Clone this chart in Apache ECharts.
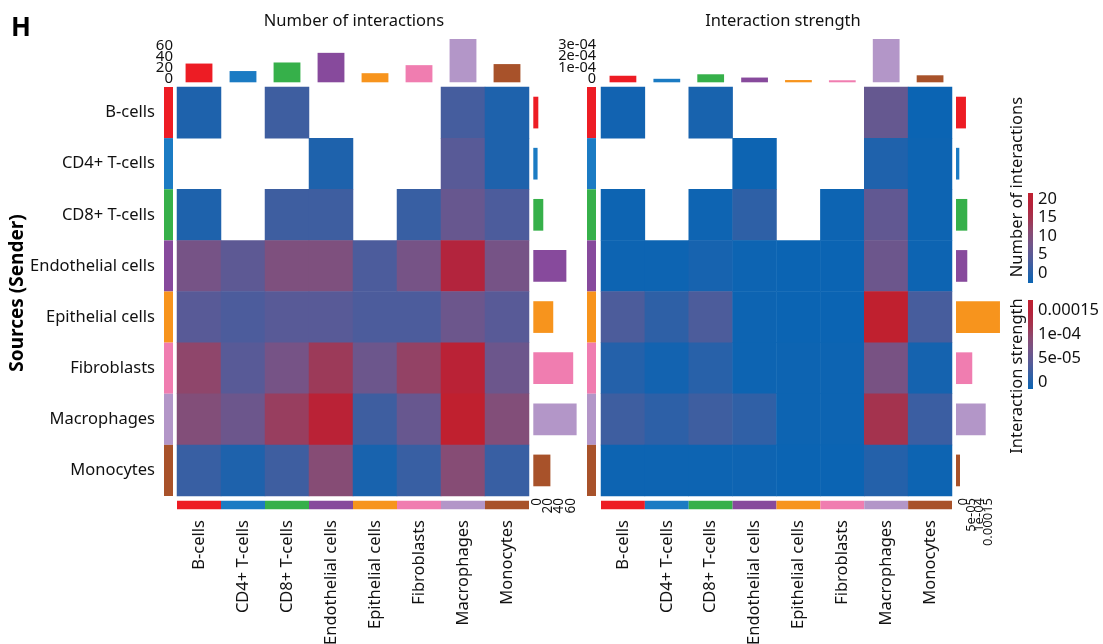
<!DOCTYPE html>
<html><head><meta charset="utf-8">
<script src="https://cdn.jsdelivr.net/npm/echarts@6/dist/echarts.min.js"></script>
<style>html,body{margin:0;padding:0;background:#fff}#c{width:1103px;height:644px}</style>
</head><body><div id="c"></div>
<script>
const cellTypes = ['B-cells','CD4+ T-cells','CD8+ T-cells','Endothelial cells','Epithelial cells','Fibroblasts','Macrophages','Monocytes'];
const cellColors = ['#ED1C24','#1B7BC3','#36B04A','#874A9C','#F7941D','#F07DB0','#B396C8','#A8522A'];
// rows = sources (sender), columns = targets (receiver); null = no interaction
const countMatrix = [
  [1.5, null, 4, null, null, null, 4.5, 1.5],
  [null, null, null, 1.5, null, null, 6, 1.5],
  [1.5, null, 4, 4, null, 3.5, 7.5, 5],
  [9, 6.5, 10, 10, 5, 9, 17, 9],
  [6, 5, 6, 6, 5, 5, 8, 6],
  [12, 6, 9, 13.5, 8, 12.5, 18.5, 8],
  [10.5, 8, 13, 18.5, 4, 7.5, 20, 10.5],
  [3.5, 1.5, 4, 11, 1, 3.5, 11, 3.5]
];
const strengthMatrix = [
  [4e-6, null, 8e-6, null, null, null, 5.5e-5, 0],
  [null, null, null, 1e-6, null, null, 1.2e-5, 1e-6],
  [1e-6, null, 2e-6, 2.1e-5, null, 1e-6, 5.2e-5, 1e-6],
  [1e-6, 1e-6, 7e-6, 1e-6, 0, 0, 6e-5, 1e-6],
  [3.8e-5, 2.1e-5, 3.8e-5, 1e-6, 0, 0, 1.5e-4, 3.5e-5],
  [1.5e-5, 5e-6, 1.7e-5, 1e-6, 1e-6, 1e-6, 7e-5, 6e-6],
  [3e-5, 2e-5, 3e-5, 2.2e-5, 1e-6, 1e-6, 1.08e-4, 2.8e-5],
  [1e-6, 1e-6, 1e-6, 2e-6, 0, 0, 1.5e-5, 1e-6]
];
const countColSums = [35, 21, 37, 55, 17, 32, 81, 34];
const countRowSums = [8.8, 7.5, 17.5, 58, 35, 70, 76, 30];
const strengthColSums = [5.8e-5, 3.1e-5, 7.1e-5, 4.2e-5, 2.0e-5, 1.8e-5, 3.83e-4, 6.2e-5];
const strengthRowSums = [6.0e-5, 2.0e-5, 6.8e-5, 6.8e-5, 2.65e-4, 9.8e-5, 1.79e-4, 2.4e-5];
const countTickValues = [0, 20, 40, 60];
const countTickLabels = ['0', '20', '40', '60'];
const strengthTopValues = [0, 1e-4, 2e-4, 3e-4];
const strengthTopLabels = ['0', '1e-04', '2e-04', '3e-04'];
const strengthSideValues = [0, 5e-5, 1e-4, 1.5e-4];
const strengthSideLabels = ['0', '5e-05', '1e-04', '0.00015'];
const countLegendTicks = ['20', '15', '10', '5', '0'];
const strengthLegendTicks = ['0.00015', '1e-04', '5e-05', '0'];
const countMax = 20, strengthMax = 1.5e-4;

const FONT = 'Noto Sans';
const TXT = '#111';
const ramp = ['#0b64b3','#2f60a6','#555b98','#725589','#8a4a72','#a3344f','#b4233c','#c0202f'];

function toCells(m) {
  const out = [];
  m.forEach((row, i) => row.forEach((v, j) => { if (v !== null) out.push([j, i, v]); }));
  return out;
}
function colored(arr) { return arr.map((v, i) => ({ value: v, itemStyle: { color: cellColors[i] } })); }

const hidden = { show: false };
const G = [
  { left: 177, top: 87, width: 352, height: 409 },      // 0 left heatmap
  { left: 601, top: 87, width: 351, height: 409 },      // 1 right heatmap
  { left: 177, top: 37.3, width: 352, height: 45 },     // 2 left top bars
  { left: 601, top: 37.1, width: 351, height: 45.2 },   // 3 right top bars
  { left: 533.3, top: 87, width: 45.6, height: 409 },   // 4 left side bars
  { left: 956, top: 87, width: 44.8, height: 409 },     // 5 right side bars
  { left: 164, top: 87, width: 9, height: 409 },        // 6 left row strip
  { left: 587, top: 87, width: 9, height: 409 },        // 7 right row strip
  { left: 177, top: 500.7, width: 352, height: 8.6 },   // 8 left column strip
  { left: 601, top: 500.7, width: 351, height: 8.6 }    // 9 right column strip
].map(g => Object.assign({ outerBoundsMode: 'none', containLabel: false }, g));

const catX = (gi, showLabels) => ({
  type: 'category', gridIndex: gi, data: cellTypes,
  axisLine: hidden, axisTick: hidden, splitLine: hidden,
  axisLabel: showLabels ? { rotate: 90, margin: 24, fontSize: 16.5, fontFamily: FONT, color: TXT, interval: 0 } : hidden
});
const catY = (gi, showLabels) => ({
  type: 'category', gridIndex: gi, data: cellTypes, inverse: true,
  axisLine: hidden, axisTick: hidden, splitLine: hidden,
  axisLabel: showLabels ? { margin: 22, fontSize: 16.5, fontFamily: FONT, color: TXT, interval: 0 } : hidden
});
const unitAxis = (type, gi) => ({ type: type, gridIndex: gi, min: 0, max: 1, show: false });
const valAxis = (gi, max, pos) => ({ type: 'value', gridIndex: gi, min: 0, max: max, position: pos,
  axisLine: hidden, axisTick: hidden, splitLine: hidden, axisLabel: hidden });

const xAxis = [
  catX(0, true),
  catX(1, true),
  { type: 'category', gridIndex: 2, data: cellTypes, show: false },
  { type: 'category', gridIndex: 3, data: cellTypes, show: false },
  valAxis(4, 80, 'bottom'),
  valAxis(5, 2.7e-4, 'bottom'),
  unitAxis('value', 6),
  unitAxis('value', 7),
  { type: 'category', gridIndex: 8, data: cellTypes, show: false },
  { type: 'category', gridIndex: 9, data: cellTypes, show: false }
];
const yAxis = [
  catY(0, true),
  catY(1, false),
  valAxis(2, 84, 'left'),
  valAxis(3, 4e-4, 'left'),
  { type: 'category', gridIndex: 4, data: cellTypes, inverse: true, show: false },
  { type: 'category', gridIndex: 5, data: cellTypes, inverse: true, show: false },
  { type: 'category', gridIndex: 6, data: cellTypes, inverse: true, show: false },
  { type: 'category', gridIndex: 7, data: cellTypes, inverse: true, show: false },
  unitAxis('value', 8),
  unitAxis('value', 9)
];

const series = [
  { type: 'heatmap', xAxisIndex: 0, yAxisIndex: 0, data: toCells(countMatrix), emphasis: { disabled: true } },
  { type: 'heatmap', xAxisIndex: 1, yAxisIndex: 1, data: toCells(strengthMatrix), emphasis: { disabled: true } },
  { type: 'bar', xAxisIndex: 2, yAxisIndex: 2, barWidth: '61%', data: colored(countColSums), silent: true },
  { type: 'bar', xAxisIndex: 3, yAxisIndex: 3, barWidth: '61%', data: colored(strengthColSums), silent: true },
  { type: 'bar', xAxisIndex: 4, yAxisIndex: 4, barWidth: '62%', data: colored(countRowSums), silent: true },
  { type: 'bar', xAxisIndex: 5, yAxisIndex: 5, barWidth: '62%', data: colored(strengthRowSums), silent: true },
  { type: 'bar', xAxisIndex: 6, yAxisIndex: 6, barWidth: '100%', data: colored(cellTypes.map(() => 1)), silent: true },
  { type: 'bar', xAxisIndex: 7, yAxisIndex: 7, barWidth: '100%', data: colored(cellTypes.map(() => 1)), silent: true },
  { type: 'bar', xAxisIndex: 8, yAxisIndex: 8, barWidth: '100%', data: colored(cellTypes.map(() => 1)), silent: true },
  { type: 'bar', xAxisIndex: 9, yAxisIndex: 9, barWidth: '100%', data: colored(cellTypes.map(() => 1)), silent: true }
];

const gradStops = ramp.slice().reverse().map((c, i, a) => ({ offset: i / (a.length - 1), color: c }));
function legendGraphics(barTop, barH, labels, labelTop, labelStep, title, titleY) {
  const els = [{
    type: 'rect', shape: { x: 1028, y: barTop, width: 5, height: barH },
    style: { fill: new echarts.graphic.LinearGradient(0, 0, 0, 1, gradStops) }
  }];
  labels.forEach((t, i) => els.push({
    type: 'text', x: 1038, y: labelTop + i * labelStep,
    style: { text: t, font: '16.5px "' + FONT + '"', fill: TXT, textAlign: 'left', textVerticalAlign: 'middle' }
  }));
  els.push({
    type: 'text', x: 1017, y: titleY, rotation: Math.PI / 2,
    style: { text: title, font: '16.5px "' + FONT + '"', fill: TXT, textAlign: 'center', textVerticalAlign: 'middle' }
  });
  return els;
}

const baseGraphic = [
  { type: 'text', x: 21, y: 29, style: { text: 'H', font: 'bold 26px "' + FONT + '"', fill: '#000', textAlign: 'center', textVerticalAlign: 'middle' } },
  { type: 'text', x: 354, y: 21, style: { text: 'Number of interactions', font: '16.5px "' + FONT + '"', fill: TXT, textAlign: 'center', textVerticalAlign: 'middle' } },
  { type: 'text', x: 783, y: 21, style: { text: 'Interaction strength', font: '16.5px "' + FONT + '"', fill: TXT, textAlign: 'center', textVerticalAlign: 'middle' } },
  { type: 'text', x: 18, y: 293, rotation: Math.PI / 2, style: { text: 'Sources (Sender)', font: 'bold 19px "' + FONT + '"', fill: '#000', textAlign: 'center', textVerticalAlign: 'middle' } }
].concat(
  legendGraphics(193, 90, countLegendTicks, 199, 18.5, 'Number of interactions', 187),
  legendGraphics(300, 89, strengthLegendTicks, 310, 24, 'Interaction strength', 376)
);

const chart = echarts.init(document.getElementById('c'), null, { renderer: 'canvas' });
chart.setOption({
  animation: false,
  backgroundColor: '#fff',
  textStyle: { fontFamily: FONT },
  grid: G,
  xAxis: xAxis,
  yAxis: yAxis,
  visualMap: [
    { type: 'continuous', show: false, seriesIndex: 0, min: 0, max: countMax, inRange: { color: ramp } },
    { type: 'continuous', show: false, seriesIndex: 1, min: 0, max: strengthMax, inRange: { color: ramp } }
  ],
  series: series,
  graphic: baseGraphic
});

// Annotation-axis tick labels (placed through the axes' own scales; overlapping as in the original)
const tickTexts = [];
countTickValues.forEach((v, i) => {
  const y = chart.convertToPixel({ yAxisIndex: 2 }, v);
  tickTexts.push({ type: 'text', x: 173, y: y - 4,
    style: { text: countTickLabels[i], font: '15px "' + FONT + '"', fill: TXT, textAlign: 'right', textVerticalAlign: 'middle' } });
});
strengthTopValues.forEach((v, i) => {
  const y = chart.convertToPixel({ yAxisIndex: 3 }, v);
  tickTexts.push({ type: 'text', x: 596, y: y - 3.6,
    style: { text: strengthTopLabels[i], font: '14.5px "' + FONT + '"', fill: TXT, textAlign: 'right', textVerticalAlign: 'middle' } });
});
countTickValues.forEach((v, i) => {
  const x = chart.convertToPixel({ xAxisIndex: 4 }, v);
  tickTexts.push({ type: 'text', x: x + 3.4, y: 498, rotation: Math.PI / 2,
    style: { text: countTickLabels[i], font: '13.5px "' + FONT + '"', fill: TXT, textAlign: 'right', textVerticalAlign: 'middle' } });
});
strengthSideValues.forEach((v, i) => {
  const x = chart.convertToPixel({ xAxisIndex: 5 }, v);
  tickTexts.push({ type: 'text', x: x + 7, y: 498, rotation: Math.PI / 2,
    style: { text: strengthSideLabels[i], font: '13px "' + FONT + '"', fill: TXT, textAlign: 'right', textVerticalAlign: 'middle' } });
});
chart.setOption({ graphic: baseGraphic.concat(tickTexts) });
</script>
</body></html>
